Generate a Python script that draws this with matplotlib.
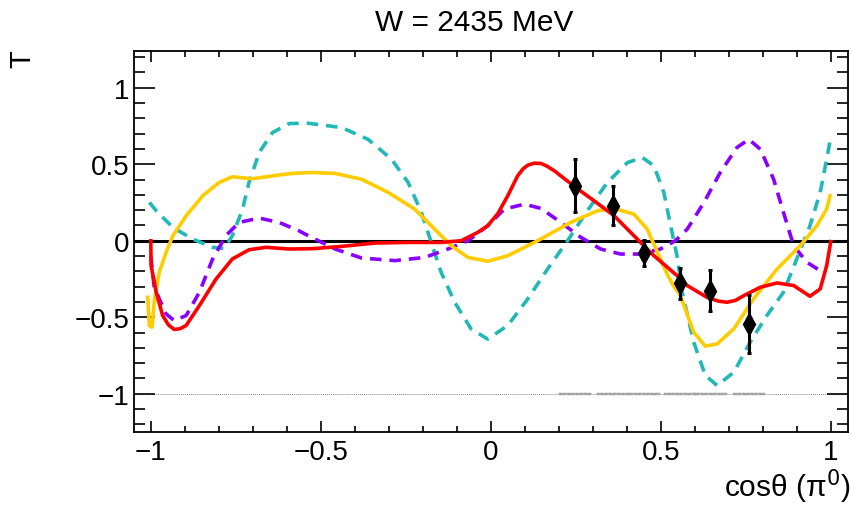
import matplotlib.pyplot as plt
from matplotlib.ticker import MultipleLocator

plt.rcParams['font.family'] = ['Liberation Sans', 'DejaVu Sans']

# measured points
cos_data = [0.248, 0.36, 0.45, 0.558, 0.646, 0.759]
t_data = [0.36, 0.228, -0.08, -0.278, -0.326, -0.543]
t_err = [0.172, 0.127, 0.088, 0.1, 0.134, 0.19]
sys_err = [0.012, 0.012, 0.012, 0.012, 0.012, 0.012]

# red solid curve
red_x = [-1.0, -0.999, -0.984, -0.965, -0.948, -0.931, -0.914, -0.896, -0.857, -0.808,
         -0.76, -0.711, -0.662, -0.593, -0.525, -0.439, -0.341, -0.243, -0.146, -0.087,
         -0.038, -0.009, 0.021, 0.05, 0.079, 0.095, 0.109, 0.128, 0.148, 0.165,
         0.187, 0.25, 0.304, 0.363, 0.421, 0.48, 0.548, 0.578, 0.636, 0.67,
         0.695, 0.72, 0.744, 0.793, 0.842, 0.891, 0.939, 0.969, 0.988, 1.0]
red_y = [0.0, -0.163, -0.337, -0.489, -0.55, -0.58, -0.575, -0.554, -0.424, -0.25,
         -0.119, -0.059, -0.043, -0.054, -0.052, -0.037, -0.015, -0.011, -0.011, 0.0,
         0.055, 0.098, 0.178, 0.294, 0.424, 0.47, 0.494, 0.507, 0.505, 0.488,
         0.457, 0.348, 0.261, 0.163, 0.033, -0.098, -0.228, -0.293, -0.37, -0.395,
         -0.402, -0.39, -0.359, -0.304, -0.276, -0.293, -0.363, -0.315, -0.163, -0.006]

# yellow solid curve
yel_x = [-1.009, -1.004, -0.996, -0.989, -0.975, -0.955, -0.935, -0.896, -0.847, -0.799,
         -0.76, -0.701, -0.642, -0.584, -0.525, -0.458, -0.38, -0.302, -0.224, -0.165,
         -0.116, -0.067, -0.009, 0.05, 0.138, 0.235, 0.314, 0.363, 0.421, 0.46,
         0.499, 0.519, 0.539, 0.558, 0.597, 0.631, 0.666, 0.715, 0.773, 0.842,
         0.91, 0.959, 0.988, 0.998]
yel_y = [-0.37, -0.554, -0.565, -0.38, -0.206, -0.076, 0.033, 0.163, 0.294, 0.381,
         0.418, 0.405, 0.424, 0.44, 0.446, 0.44, 0.402, 0.316, 0.207, 0.076,
         -0.033, -0.109, -0.134, -0.098, 0.0, 0.12, 0.196, 0.211, 0.174, 0.076,
         -0.119, -0.22, -0.3, -0.36, -0.598, -0.689, -0.674, -0.576, -0.38, -0.185,
         -0.033, 0.098, 0.207, 0.294]

# cyan dashed curve
cyan_x = [-1.004, -0.984, -0.935, -0.877, -0.818, -0.784, -0.76, -0.73, -0.711, -0.681,
          -0.642, -0.593, -0.537, -0.439, -0.361, -0.292, -0.243, -0.204, -0.175, -0.146,
          -0.106, -0.058, -0.009, 0.05, 0.109, 0.167, 0.226, 0.284, 0.343, 0.402,
          0.446, 0.48, 0.509, 0.529, 0.548, 0.563, 0.597, 0.631, 0.666, 0.715,
          0.763, 0.812, 0.861, 0.9, 0.939, 0.969, 0.988, 0.998]
cyan_y = [0.25, 0.196, 0.087, 0.011, -0.043, -0.05, 0.033, 0.207, 0.381, 0.577,
          0.707, 0.766, 0.768, 0.74, 0.663, 0.533, 0.381, 0.185, -0.011, -0.206,
          -0.402, -0.576, -0.643, -0.554, -0.38, -0.185, 0.0, 0.196, 0.381, 0.511,
          0.544, 0.489, 0.316, 0.098, -0.1, -0.337, -0.663, -0.88, -0.946, -0.859,
          -0.663, -0.489, -0.337, -0.119, 0.098, 0.316, 0.533, 0.652]

# purple dashed curve
pur_x = [-1.0, -0.99, -0.975, -0.955, -0.931, -0.896, -0.857, -0.818, -0.779, -0.74,
         -0.681, -0.623, -0.564, -0.537, -0.458, -0.38, -0.282, -0.194, -0.126, -0.067,
         -0.009, 0.04, 0.099, 0.148, 0.206, 0.265, 0.323, 0.382, 0.441, 0.499,
         0.543, 0.578, 0.627, 0.675, 0.724, 0.759, 0.793, 0.832, 0.861, 0.891,
         0.93, 0.969]
pur_y = [-0.1, -0.3, -0.38, -0.478, -0.522, -0.489, -0.337, -0.119, 0.033, 0.12,
         0.148, 0.12, 0.065, 0.033, -0.054, -0.113, -0.13, -0.109, -0.054, 0.0,
         0.098, 0.207, 0.239, 0.211, 0.12, 0.022, -0.054, -0.087, -0.087, -0.054,
         0.0, 0.076, 0.25, 0.446, 0.609, 0.663, 0.598, 0.402, 0.185, -0.033,
         -0.141, -0.196]

fig = plt.figure(figsize=(8.52, 5.10), dpi=100)
ax = fig.add_axes([0.157, 0.151, 0.838, 0.747])

ax.axhline(0, color='black', lw=2.2, zorder=2)
ax.axhline(-1, color='#888888', lw=0.7, ls=(0, (1, 1)), zorder=1)
ax.bar(cos_data, sys_err, width=0.095, bottom=-1 - 0.006, color='#bbbbbb',
       edgecolor='#999999', lw=0.3, hatch='xxxx', zorder=2)

ax.plot(cyan_x, cyan_y, color='#22b8b8', lw=2.6, ls=(0, (3.2, 2.2)), zorder=3)
ax.plot(pur_x, pur_y, color='#8a00ff', lw=2.6, ls=(0, (3.2, 2.2)), zorder=3)
ax.plot(yel_x, yel_y, color='#ffcc00', lw=2.6, zorder=4)
ax.plot(red_x, red_y, color='#ff0000', lw=2.6, zorder=5)

ax.errorbar(cos_data, t_data, yerr=t_err, fmt='d', color='black', ms=11,
            elinewidth=2.2, capsize=1.5, capthick=2.2, zorder=6)

ax.set_xlim(-1.05, 1.05)
ax.set_ylim(-1.25, 1.24)
ax.xaxis.set_minor_locator(MultipleLocator(0.1))
ax.yaxis.set_minor_locator(MultipleLocator(0.1))
ax.set_xticks([-1, -0.5, 0, 0.5, 1])
ax.set_xticklabels(['\u22121', '\u22120.5', '0', '0.5', '1'])
ax.set_yticks([-1, -0.5, 0, 0.5, 1])
ax.set_yticklabels(['\u22121', '\u22120.5', '0', '0.5', '1'])
ax.tick_params(which='both', direction='in', top=True, right=True, width=1.2,
               labelsize=20)
ax.tick_params(axis='x', which='major', length=8, pad=5)
ax.tick_params(axis='x', which='minor', length=4)
ax.tick_params(axis='y', which='major', length=15, pad=3)
ax.tick_params(axis='y', which='minor', length=8)
for s in ax.spines.values():
    s.set_linewidth(1.3)

fig.text(0.556, 0.955, 'W = 2435 MeV', ha='center', va='center', fontsize=21.5)
fig.text(0.026, 0.884, 'T', rotation=90, ha='center', va='center', fontsize=21)
fig.text(0.998, 0.045, 'cos\u03b8 (\u03c0$^{0}$)', ha='right', va='center', fontsize=21.5)

fig.savefig('out.png', dpi=100)
